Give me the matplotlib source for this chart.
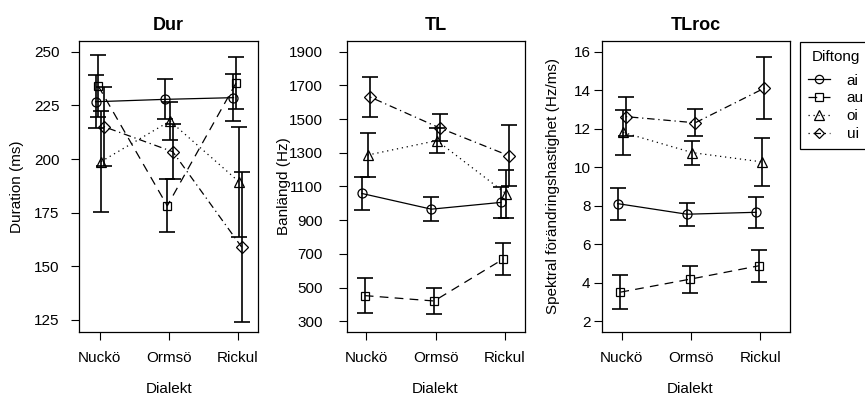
import numpy as np
import matplotlib
matplotlib.use('Agg')
import matplotlib.pyplot as plt
from matplotlib.lines import Line2D

plt.rcParams['font.family'] = ['Liberation Sans', 'DejaVu Sans']
plt.rcParams['font.size'] = 11

dialekter = ['Nuckö', 'Ormsö', 'Rickul']
diftonger = ['ai', 'au', 'oi', 'ui']

# medelvärden och felstaplar, en rad per diftong (ai, au, oi, ui)
dur_mean = np.array([[226.7, 227.8, 228.6],
                     [234.0, 178.2, 235.6],
                     [198.8, 217.7, 189.4],
                     [215.1, 203.4, 158.9]])
dur_err = np.array([[12.4, 9.3, 11.0],
                    [14.4, 12.3, 12.1],
                    [23.5, 9.0, 25.5],
                    [18.4, 12.9, 35.0]])

tl_mean = np.array([[1058, 965, 1005],
                    [452, 420, 670],
                    [1286, 1372, 1056],
                    [1630, 1447, 1282]])
tl_err = np.array([[97, 72, 94],
                   [104, 80, 97],
                   [129, 72, 141],
                   [117, 80, 182]])

tlroc_mean = np.array([[8.1, 7.55, 7.65],
                       [3.5, 4.17, 4.87],
                       [11.8, 10.75, 10.27],
                       [12.62, 12.3, 14.1]])
tlroc_err = np.array([[0.83, 0.6, 0.82],
                      [0.9, 0.7, 0.83],
                      [1.15, 0.62, 1.25],
                      [1.0, 0.7, 1.6]])

dodge = [-0.06, -0.02, 0.02, 0.06]
markers = ['o', 's', '^', 'D']
msizes = [6.5, 6, 7, 6]
lstyles = ['-', (0, (7, 5)), (0, (1, 3)), (0, (1, 3, 6, 3))]

W, H = 865, 403
fig = plt.figure(figsize=(W / 100, H / 100), dpi=100)

# titel, ylabel, data, yticks, ylim, xlim, box x-pixlar, ylabel x, xlabel x, tick pad
panels = [
    ('Dur', 'Duration (ms)', dur_mean, dur_err, np.arange(125, 251, 25),
     (119.4, 255), (0.7, 3.3), (79, 258.3), 17, 169, 8),
    ('TL', 'Banlängd (Hz)', tl_mean, tl_err, np.arange(300, 1901, 200),
     (236, 1963), (0.72, 3.29), (346.7, 525), 284, 435, 11),
    ('TLroc', 'Spektral förändringshastighet (Hz/ms)', tlroc_mean, tlroc_err,
     np.arange(2, 17, 2), (1.43, 16.55), (0.71, 3.43), (601.7, 790), 553, 690, 2),
]

top, bottom = 41, 332
x = np.arange(1, 4)
for title, ylab, mean, err, yt, ylim, xlim, (x0, x1), ylx, xlx, pad in panels:
    ax = fig.add_axes([x0 / W, 1 - bottom / H, (x1 - x0) / W, (bottom - top) / H])
    for i in range(4):
        xi = x + dodge[i]
        ax.errorbar(xi, mean[i], yerr=err[i], fmt='none', ecolor='black',
                    elinewidth=1.2, capsize=6, capthick=1.2)
        ax.plot(xi, mean[i], color='black', lw=0.9, ls=lstyles[i],
                marker=markers[i], ms=msizes[i], mfc='none', mec='black', mew=0.9)
    ax.set_xlim(xlim)
    ax.set_ylim(ylim)
    ax.set_xticks(x)
    ax.set_xticklabels(dialekter)
    ax.set_yticks(yt)
    ax.tick_params(axis='y', length=6, width=0.8, pad=pad)
    ax.tick_params(axis='x', length=6, width=0.8, pad=8)
    for s in ax.spines.values():
        s.set_linewidth(0.9)
    ax.set_title(title, fontweight='bold', fontsize=13, pad=8)
    fig.text(ylx / W, 1 - (top + bottom) / 2 / H, ylab, rotation=90,
             ha='center', va='center')
    fig.text(xlx / W, 1 - 389 / H, 'Dialekt', ha='center', va='center')

handles = [Line2D([], [], color='black', lw=0.9, ls=lstyles[i], marker=markers[i],
                  ms=msizes[i] - 0.5, mfc='none', mec='black', mew=0.9)
           for i in range(4)]
leg = fig.legend(handles, diftonger, title='Diftong', loc='upper left',
                 bbox_to_anchor=(800 / W, 1 - 41.5 / H), borderaxespad=0,
                 fancybox=False, edgecolor='black', framealpha=1,
                 handlelength=1.4, handletextpad=1.1, labelspacing=0.25,
                 borderpad=0.55, title_fontsize=11)
leg.get_frame().set_linewidth(0.9)
leg._legend_box.sep = 7

fig.savefig('out.png', dpi=100)
